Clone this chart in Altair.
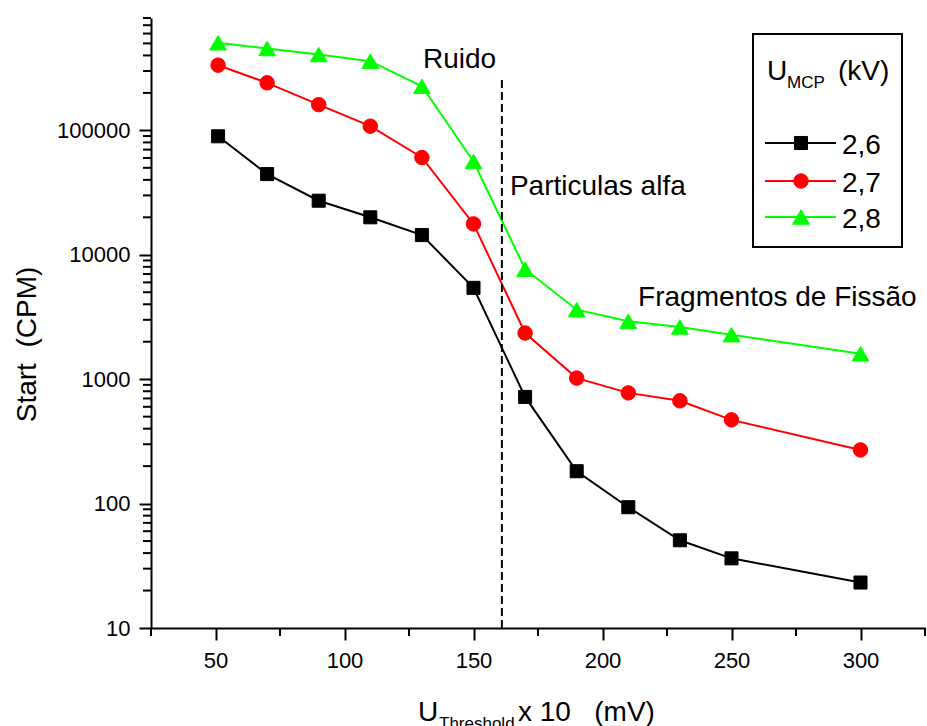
import altair as alt
import pandas as pd

FONT = "Liberation Sans"

# ---- data ----
x_vals = [51, 70, 90, 110, 130, 150, 170, 190, 210, 230, 250, 300]
series_names = ["2,6", "2,7", "2,8"]
start_26 = [89600, 44500, 27200, 20000, 14400, 5420, 720, 182, 93.5, 50.7, 36.3, 23.2]
start_27 = [334000, 241000, 161000, 108000, 60500, 17700, 2350, 1020, 776, 670, 471, 270]
start_28 = [506000, 455000, 407000, 360000, 226000, 56200, 7660, 3620, 2920, 2630, 2280, 1600]

x_major = [50, 100, 150, 200, 250, 300]
x_minor = [25, 75, 125, 175, 225, 275, 325]
y_major = [10, 100, 1000, 10000, 100000]
y_minor = [m * d for d in [10, 100, 1000, 10000, 100000] for m in range(2, 10) if m * d <= 800000]

threshold_x = [161]
threshold_lo = [10]
threshold_hi = [264000]

ann_text = ["Ruido", "Particulas alfa", "Fragmentos de Fissão"]
ann_x = [130.4, 164.1, 213.8]
ann_y = [315000, 30500, 3910]

colors = ["#000000", "#ff0000", "#00ff00"]
shapes = ["square", "circle", "triangle-up"]
sizes = [170, 210, 280]

# ---- scales & axes ----
xscale = alt.Scale(domain=[25, 325], nice=False, zero=False)
yscale = alt.Scale(type="log", domain=[10, 800000], nice=False)

axis_common = dict(
    tickWidth=2, tickColor="black", domainWidth=2, domainColor="black",
    labelFont=FONT, labelFontSize=22, labelColor="black", grid=False,
    tickSize=12,
)

x_axis = alt.Axis(values=x_major, format="d", labelPadding=10, title=None, **axis_common)
y_axis = alt.Axis(
    values=y_major, format="d", labelPadding=9,
    title="Start\u00a0\u00a0(CPM)", titleFont=FONT, titleFontSize=28,
    titleFontWeight="normal", titleColor="black", titleAngle=270,
    titleX=-116, titleY=326, titleAlign="center", titleBaseline="alphabetic",
    **axis_common,
)


def X(field):
    return alt.X(f"{field}:Q", scale=xscale, axis=x_axis)


def Y(field):
    return alt.Y(f"{field}:Q", scale=yscale, axis=y_axis)


series_vals = [start_26, start_27, start_28]
one = pd.DataFrame({"a": [0]})

layers = []
for i, (name, vals) in enumerate(zip(series_names, series_vals)):
    d = pd.DataFrame({"u": x_vals, "start": vals})
    layers.append(alt.Chart(d).mark_line(strokeWidth=2, color=colors[i]).encode(
        x=X("u"), y=Y("start")))

for i, (name, vals) in enumerate(zip(series_names, series_vals)):
    d = pd.DataFrame({"u": x_vals, "start": vals})
    layers.append(alt.Chart(d).mark_point(
        filled=True, opacity=1, shape=shapes[i], size=sizes[i],
        color=colors[i], stroke=colors[i], strokeWidth=1,
    ).encode(x=X("u"), y=Y("start")))

# minor ticks
layers.append(alt.Chart(pd.DataFrame({"v": y_minor})).mark_rule(strokeWidth=2, color="black").encode(
    y=Y("v"), x=alt.value(-8), x2=alt.value(0)))
layers.append(alt.Chart(pd.DataFrame({"v": x_minor})).mark_rule(strokeWidth=2, color="black").encode(
    x=X("v"), y=alt.value(610), y2=alt.value(618)))

# dashed threshold line
layers.append(alt.Chart(pd.DataFrame({"u": threshold_x, "lo": threshold_lo, "hi": threshold_hi})).mark_rule(
    strokeDash=[8, 4], strokeWidth=2, color="black"
).encode(x=X("u"), y=Y("lo"), y2="hi:Q"))

# annotations
layers.append(alt.Chart(pd.DataFrame({"u": ann_x, "v": ann_y, "t": ann_text})).mark_text(
    align="left", baseline="alphabetic", font=FONT, fontSize=28, color="black"
).encode(x=X("u"), y=Y("v"), text="t:N"))


def txt(s, x, y, size=28):
    return alt.Chart(one).mark_text(
        align="left", baseline="alphabetic", font=FONT, fontSize=size, color="black"
    ).encode(x=alt.value(x), y=alt.value(y), text=alt.value(s))


# x title with subscript
layers += [
    txt("U", 267, 703),
    txt("Threshold", 288, 711, 17),
    txt("x 10\u00a0\u00a0\u00a0(mV)", 367, 703),
]

# legend
layers.append(alt.Chart(one).mark_rect(fillOpacity=0, stroke="black", strokeWidth=2).encode(
    x=alt.value(602), x2=alt.value(751), y=alt.value(16), y2=alt.value(229)))
layers += [
    txt("U", 616, 62),
    txt("MCP", 636, 70, 17),
    txt("(kV)", 687, 62),
]
row_y = [125, 163, 199]
for i, name in enumerate(series_names):
    ry = row_y[i]
    layers.append(alt.Chart(one).mark_rule(strokeWidth=2, color=colors[i]).encode(
        x=alt.value(614), x2=alt.value(685), y=alt.value(ry)))
    layers.append(alt.Chart(one).mark_point(
        filled=True, opacity=1, shape=shapes[i], size=sizes[i],
        color=colors[i], stroke=colors[i], strokeWidth=1,
    ).encode(x=alt.value(650), y=alt.value(ry)))
    layers.append(txt(name, 691, ry + 11))

chart = alt.layer(*layers).properties(
    width=774, height=610,
    autosize=alt.AutoSizeParams(type="none"),
    padding={"left": 151, "top": 18, "right": 2, "bottom": 98},
).configure_view(stroke=None)

chart.save("out.html", embed_options={"renderer": "svg", "actions": False})
